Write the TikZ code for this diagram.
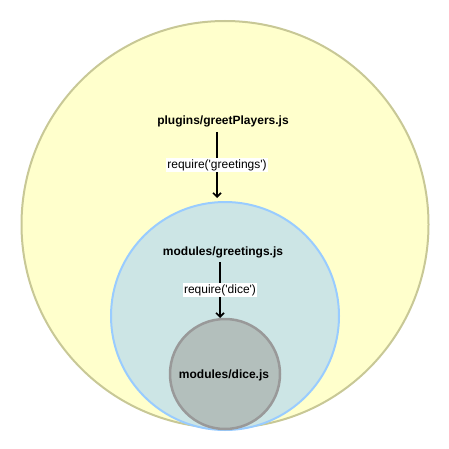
\documentclass[tikz,border=0pt]{standalone}
\usepackage{fontspec}
\setmainfont{Liberation Sans}
\newfontfamily\plainsans{Liberation Sans}
\usetikzlibrary{arrows.meta}
\definecolor{bigfill}{HTML}{FFFFCC}
\definecolor{bigline}{HTML}{C8C896}
\definecolor{midfill}{HTML}{CCE5E5}
\definecolor{midline}{HTML}{99CCFF}
\definecolor{smallfill}{HTML}{B3BFBC}
\definecolor{smallline}{HTML}{999999}
\begin{document}
\begin{tikzpicture}[x=1pt,y=-1pt,
  ring/.style={circle,inner sep=0pt,line width=2pt},
  title/.style={font=\fontsize{12}{14}\selectfont\bfseries,inner sep=1pt},
  lbl/.style={font=\plainsans\fontsize{12}{14}\selectfont,fill=white,inner sep=1.5pt},
  arr/.style={line width=2pt,-{Straight Barb[length=4pt,width=8pt,line width=1.6pt]}}]
\useasboundingbox (0,0) rectangle (449,449);
\node[ring,draw=bigline,fill=bigfill,minimum size=407pt] (c1) at (225,224.5) {};
\node[ring,draw=midline,fill=midfill,minimum size=228pt] (c2) at (225,316) {};
\node[ring,draw=smallline,fill=smallfill,minimum size=110pt,line width=2.5pt] (c3) at (225,374) {};
\node[title] (t1) at (223,121) {plugins/greetPlayers.js};
\node[title] (t2) at (223,252) {modules/greetings.js};
\node[title] (t3) at (224,375) {modules/dice.js};
\coordinate (a1s) at (217,132);
\coordinate (a1e) at (217,198);
\coordinate (a2s) at (220,262);
\coordinate (a2e) at (220,318);
\draw[arr] (a1s) -- node[lbl] (l1) {require('greetings')} (a1e);
\draw[arr] (a2s) -- node[lbl] (l2) {require('dice')} (a2e);
\end{tikzpicture}
\end{document}
